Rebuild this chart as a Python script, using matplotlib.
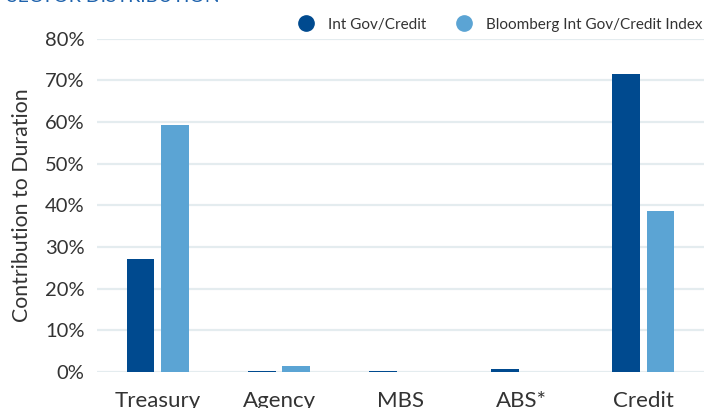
import matplotlib
matplotlib.use("Agg")
import matplotlib.pyplot as plt
import numpy as np
from matplotlib.lines import Line2D

categories = ["Treasury", "Agency", "MBS", "ABS*", "Credit"]
int_gov_credit = [27.1, 0.3, 0.3, 0.8, 71.5]
bloomberg_index = [59.3, 1.5, 0.0, 0.0, 38.6]
series_names = ["Int Gov/Credit", "Bloomberg Int Gov/Credit Index"]
yticks = [0, 10, 20, 30, 40, 50, 60, 70, 80]

plt.rcParams['font.family'] = ['Lato', 'DejaVu Sans']

dark = '#004a8f'
light = '#5ba4d4'
grid_c = '#e4ecef'
text_c = '#333333'

fig = plt.figure(figsize=(7.04, 4.08), dpi=100)
ax = fig.add_axes([97/704, 36/408, 1 - 97/704, (372 - 38.5)/408])

x = np.arange(len(categories))
w = 0.23
off = 0.142
ax.bar(x - off, int_gov_credit, width=w, color=dark, zorder=3)
ax.bar(x + off, bloomberg_index, width=w, color=light, zorder=3)

ax.set_xlim(-0.5, 4.5)
ax.set_ylim(0, 80)
ax.set_yticks(yticks)
ax.set_yticklabels([f"{v}%" for v in yticks])
ax.set_xticks(x)
ax.set_xticklabels(categories)
for v in yticks:
    ax.axhline(v, color=grid_c, lw=1.6, zorder=1)
for s in ax.spines.values():
    s.set_visible(False)
ax.tick_params(axis='both', length=0, colors=text_c)
ax.tick_params(axis='y', pad=9, labelsize=14.5)
ax.tick_params(axis='x', pad=14, labelsize=16)
ax.set_ylabel("Contribution to Duration", fontsize=15.3, color=text_c, labelpad=9)

handles = [Line2D([], [], marker='o', ls='none', color=dark, markersize=11),
           Line2D([], [], marker='o', ls='none', color=light, markersize=11)]
fig.legend(handles, series_names, loc='upper right', bbox_to_anchor=(1.018, 0.99),
           ncol=2, frameon=False, fontsize=11, handletextpad=0.45, columnspacing=1.5,
           labelcolor=text_c)

fig.text(7/704, 1 - 1.5/408, "SECTOR DISTRIBUTION", color='#1f63ad', fontsize=14,
         ha='left', va='baseline')

fig.savefig("out.png", dpi=100)
